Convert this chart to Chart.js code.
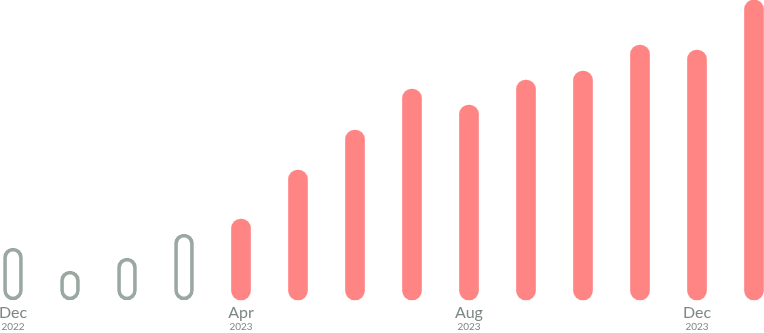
<!DOCTYPE html>
<html>
<head>
<meta charset="utf-8">
<script src="https://cdn.jsdelivr.net/npm/chart.js@4.4.0/dist/chart.umd.min.js"></script>
<style>
  html, body { margin: 0; padding: 0; background: #fff; }
  #wrap { width: 764px; height: 333px; }
</style>
</head>
<body>
<div id="wrap"><canvas id="chart"></canvas></div>
<script>
// monthly values, first four are the "before" period (outlined)
const months = ['Dec', 'Jan', 'Feb', 'Mar', 'Apr', 'May', 'Jun', 'Jul', 'Aug', 'Sep', 'Oct', 'Nov', 'Dec', 'Jan'];
const monthTicks = ['Dec', '', '', '', 'Apr', '', '', '', 'Aug', '', '', '', 'Dec', ''];
const yearTicks = ['2022', '', '', '', '2023', '', '', '', '2023', '', '', '', '2023', ''];
const values = [52, 29, 42, 66, 81, 130, 170, 211, 195, 220, 229, 255, 250, 300];
const outlined = [true, true, true, true, false, false, false, false, false, false, false, false, false, false];

const grey = '#9ba7a1';
const salmon = '#ff8585';
const textGrey = '#7c8882';

// keep the edge labels from pushing the plot inwards
function fitAxis(h) {
    return scale => {
        scale.paddingLeft = 0;
        scale.paddingRight = 0;
        scale.height = h;
    };
}

const ctx = document.getElementById('chart').getContext('2d');
new Chart(ctx, {
    type: 'bar',
    data: {
        labels: months,
        datasets: [{
            data: values,
            backgroundColor: outlined.map(o => o ? 'rgba(0,0,0,0)' : salmon),
            borderColor: outlined.map(o => o ? grey : salmon),
            borderWidth: outlined.map(o => o ? 3 : 0),
            borderSkipped: false,
            borderRadius: 10,
            barThickness: 19,
            clip: false
        }]
    },
    options: {
        responsive: true,
        maintainAspectRatio: false,
        animation: false,
        layout: { padding: { left: 13, right: 10, top: 0, bottom: 0 } },
        plugins: { legend: { display: false }, tooltip: { enabled: false } },
        scales: {
            y: { display: false, min: 0, max: 300 },
            x: {
                offset: false,
                grid: { display: false, drawTicks: false },
                border: { display: false },
                afterFit: fitAxis(21),
                ticks: {
                    autoSkip: false,
                    maxRotation: 0,
                    padding: 3,
                    color: textGrey,
                    font: { family: 'Lato', size: 16 },
                    callback: (v, i) => monthTicks[i]
                }
            },
            year: {
                type: 'category',
                position: 'bottom',
                labels: yearTicks,
                offset: false,
                grid: { display: false, drawTicks: false },
                border: { display: false },
                afterFit: fitAxis(12),
                ticks: {
                    autoSkip: false,
                    maxRotation: 0,
                    padding: 0,
                    color: textGrey,
                    font: { family: 'Lato', size: 10 }
                }
            }
        }
    }
});
</script>
</body>
</html>
